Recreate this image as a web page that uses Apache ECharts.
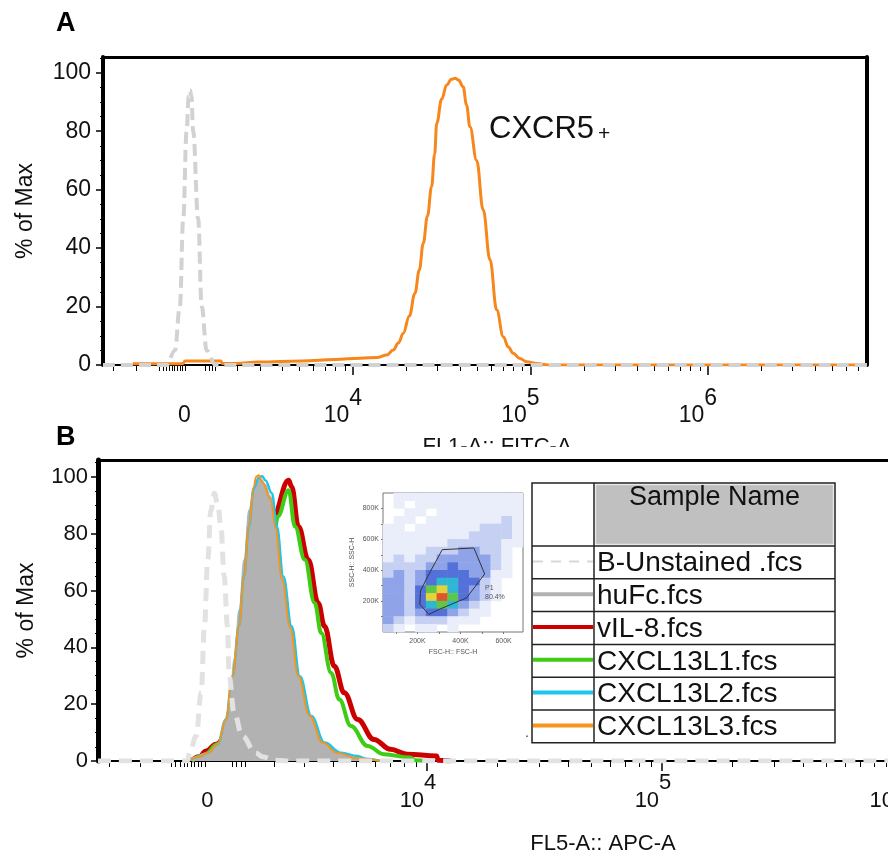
<!DOCTYPE html>
<html>
<head>
<meta charset="utf-8">
<title>CXCR5 flow histograms</title>
<script src="https://cdn.jsdelivr.net/npm/echarts@6.0.0/dist/echarts.min.js"></script>
<style>
  html, body { margin: 0; padding: 0; background: #fff; }
  #main { width: 888px; height: 857px; }
</style>
</head>
<body>
<div id="main"></div>
<script>
// x is in display decades (4 = 10^4, 5 = 10^5 ...), below 10^4 the scale is biexponential
var xTickLabels = ["0", "10^4", "10^5", "10^6"];
var xTickPosA = [3.05, 4, 5, 6];
var xTickPosB = [3.065, 4, 5, 6];
var xMinorLow = [2.65, 2.78, 2.91, 2.93, 2.95, 2.965, 2.98, 2.995, 3.01, 3.025, 3.04, 3.055,
  3.17, 3.19, 3.21, 3.225, 3.35, 3.477, 3.602, 3.699, 3.778, 3.845, 3.903, 3.954];
var yMajor = [0, 20, 40, 60, 80, 100];
var yMinor = [5, 10, 15, 25, 30, 35, 45, 50, 55, 65, 70, 75, 85, 90, 95, 105];

// panel A  (% of Max)
var unstainedA = [[2.592, 0], [2.95, 0], [2.997, 5], [3.025, 20], [3.044, 50], [3.063, 80], [3.075, 92],
  [3.082, 94], [3.09, 92], [3.10, 80], [3.128, 50], [3.148, 20], [3.176, 5], [3.225, 0], [6.896, 0]];
var cxcr5A = [[2.76, 0.4], [3.04, 0.4], [3.055, 1.4], [3.255, 1.4], [3.265, 0.5], [3.345, 0.5], [3.465, 1.0],
  [3.713, 1.4], [3.899, 1.9], [4.04, 2.3], [4.14, 2.6], [4.19, 3.4], [4.227, 5.1], [4.257, 7.6], [4.283, 10.8],
  [4.318, 16.8], [4.349, 24.5], [4.374, 32.5], [4.396, 41.6], [4.42, 51], [4.443, 61], [4.46, 72], [4.472, 82.7],
  [4.5, 91], [4.528, 95.8], [4.555, 97.8], [4.575, 98.1], [4.595, 97.5], [4.621, 95.2], [4.64, 89],
  [4.659, 81.5], [4.697, 70], [4.734, 53], [4.772, 36], [4.81, 18.8], [4.847, 9.7], [4.875, 6.2], [4.903, 4],
  [4.94, 2.2], [4.979, 1.1], [5.035, 0.5], [5.1, 0], [6.896, 0]];

// panel B
var unstainedB = [[2.6, 0], [2.98, 0], [2.99, 2.9], [3.018, 8.8], [3.039, 24], [3.053, 47.4], [3.067, 70.8],
  [3.08, 88], [3.095, 94.2], [3.11, 90], [3.123, 82.5], [3.137, 64.9], [3.151, 47.4], [3.158, 29.8],
  [3.179, 17], [3.214, 8.8], [3.27, 2.9], [3.3, 1.5], [3.35, 0.3], [3.4, 0], [6.898, 0]];
var huFcB = [[2.96, 0], [3.004, 1.2], [3.06, 2.9], [3.116, 6.5], [3.158, 18.1], [3.179, 35.7], [3.2, 53.2],
  [3.221, 70.8], [3.242, 88.3], [3.263, 96], [3.284, 100], [3.298, 99], [3.31, 97.5], [3.336, 93],
  [3.357, 82.5], [3.385, 64.9], [3.42, 47.4], [3.455, 29.8], [3.504, 15.8], [3.56, 6.5], [3.63, 2.9],
  [3.7, 1.2], [3.78, 0.3], [3.85, 0]];
var vil8B = [[2.997, 0], [3.03, 1.5], [3.06, 3.5], [3.102, 5.9], [3.2, 18], [3.24, 40], [3.28, 60],
  [3.31, 72], [3.34, 79], [3.345, 86], [3.411, 98.8], [3.424, 96.5], [3.453, 82.5], [3.495, 70.8],
  [3.537, 55.6], [3.564, 47.4], [3.606, 33.3], [3.648, 24], [3.705, 14.6], [3.774, 7.6], [3.845, 4.1],
  [3.915, 2.4], [4.041, 1.8], [4.047, 0.3], [4.1, 0]];
var l1B = [[3.0, 0], [3.05, 2], [3.11, 6], [3.2, 18], [3.25, 40], [3.29, 60], [3.32, 72], [3.35, 80],
  [3.365, 86], [3.411, 95.3], [3.438, 82.5], [3.48, 70.8], [3.522, 55.6], [3.55, 45], [3.592, 31],
  [3.627, 21.6], [3.676, 12.3], [3.747, 5.3], [3.816, 2.4], [3.929, 1.2], [3.95, 0.3], [4.0, 0]];
var l2B = [[2.98, 0], [3.03, 1.5], [3.07, 3], [3.109, 5.9], [3.144, 14.6], [3.172, 29.8], [3.2, 47.4],
  [3.221, 64.9], [3.242, 82.5], [3.263, 96], [3.284, 99.5], [3.298, 100.3], [3.312, 98.8], [3.34, 94.2],
  [3.361, 82.5], [3.389, 64.9], [3.424, 47.4], [3.459, 29.8], [3.508, 15.8], [3.564, 6.5], [3.634, 2.9],
  [3.705, 1.8], [3.74, 0.8], [3.8, 0]];
var l3B = [[2.98, 0], [3.03, 1.5], [3.07, 3], [3.109, 5.9], [3.144, 14.6], [3.172, 29.8], [3.2, 47.4],
  [3.221, 64.9], [3.242, 82.5], [3.263, 96.5], [3.273, 100], [3.284, 100.5], [3.3, 98], [3.335, 92],
  [3.355, 82], [3.383, 64], [3.418, 47], [3.452, 30], [3.5, 16], [3.555, 6.5], [3.62, 2.8], [3.7, 1], [3.8, 0]];

var sampleNames = ["B-Unstained .fcs", "huFc.fcs", "vIL-8.fcs", "CXCL13L1.fcs", "CXCL13L2.fcs", "CXCL13L3.fcs"];
var sampleColors = ["#d8d8d8", "#b2b2b2", "#cc0000", "#3fcc14", "#1ec6ea", "#f7941d"];

// inset FSC/SSC dot plot, density per 50K bin (rows top -> bottom)
var fscBins = [40, 90, 140, 190, 240, 290, 340, 390, 440, 490, 540, 590, 640];
var sscBins = [0, 50, 100, 150, 200, 250, 300, 350, 400, 450, 500, 550, 600, 650, 700, 750, 800, 850];
var densityRows = [
  [0, 1, 1, 1, 1, 1, 1, 1, 1, 1, 1, 1, 1],
  [0, 1, 0, 1, 1, 1, 1, 1, 1, 1, 1, 1, 1],
  [0, 0, 1, 1, 0, 1, 1, 1, 1, 1, 1, 1, 1],
  [0, 1, 1, 0, 1, 1, 1, 1, 1, 1, 1, 2, 1],
  [1, 1, 0, 1, 1, 1, 1, 1, 1, 2, 2, 2, 1],
  [1, 1, 1, 1, 1, 1, 1, 1, 2, 2, 2, 2, 1],
  [1, 1, 1, 1, 1, 1, 2, 2, 2, 2, 2, 1, 1],
  [1, 1, 1, 1, 2, 2, 2, 3, 3, 2, 2, 1, 0],
  [1, 2, 1, 2, 2, 3, 3, 3, 3, 3, 2, 1, 0],
  [2, 2, 2, 2, 3, 3, 4, 3, 3, 3, 2, 1, 0],
  [2, 3, 2, 3, 4, 4, 4, 4, 3, 3, 1, 1, 0],
  [3, 3, 2, 3, 4, 5, 5, 4, 4, 2, 1, 0, 0],
  [3, 3, 2, 4, 6, 7, 5, 4, 3, 2, 1, 0, 0],
  [3, 3, 2, 4, 7, 8, 6, 4, 3, 2, 1, 0, 0],
  [3, 3, 2, 4, 5, 6, 5, 3, 2, 1, 0, 0, 0],
  [3, 3, 2, 3, 4, 4, 3, 2, 1, 1, 0, 0, 0],
  [3, 2, 1, 2, 2, 2, 1, 1, 1, 0, 0, 0, 0],
  [2, 1, 0, 1, 1, 0, 1, 0, 0, 0, 0, 0, 0]
];
var gateP1 = [[315, 533], [462, 544], [512, 376], [428, 221], [307, 150], [253, 114], [211, 179],
  [214, 265], [248, 361], [315, 533]];

var FONT = "Liberation Sans";

function decadeTicks(base, max) {
  var out = base.slice();
  for (var d = 4; d <= 6; d++) {
    for (var k = 2; k <= 9; k++) {
      var v = d + Math.log10(k);
      if (v <= max) out.push(v);
    }
  }
  return out;
}

function xLabelFmt(positions) {
  return function (v) {
    for (var i = 0; i < positions.length; i++) {
      if (Math.abs(v - positions[i]) < 1e-6) {
        var t = xTickLabels[i];
        if (t.indexOf("^") < 0) return "{b|" + t + "}";
        var p = t.split("^");
        return "{b|" + p[0] + "}{s|" + p[1] + "}";
      }
    }
    return "";
  };
}

var heatData = [];
densityRows.forEach(function (row, r) {
  row.forEach(function (v, c) {
    if (v > 0) heatData.push([c, densityRows.length - 1 - r, v]);
  });
});

function histAxes(grid, min, max, labelPos, fs, margin, lh, supPad) {
  return [
    {
      gridIndex: grid, type: "value", min: min, max: max, position: "bottom",
      axisLine: { show: true, onZero: false, lineStyle: { color: "#000", width: 2 } },
      axisTick: { show: true, length: 10, customValues: [4, 5, 6], lineStyle: { color: "#000", width: 1.5 } },
      axisLabel: {
        customValues: labelPos, margin: margin, color: "#111", formatter: xLabelFmt(labelPos),
        rich: {
          b: { fontSize: fs, fontFamily: FONT, color: "#111", lineHeight: lh, verticalAlign: "bottom" },
          s: { fontSize: fs, fontFamily: FONT, color: "#111", lineHeight: lh, verticalAlign: "top", padding: [0, supPad, 0, 0] }
        }
      },
      splitLine: { show: false }
    },
    {
      gridIndex: grid, type: "value", min: min, max: max, position: "bottom",
      axisLine: { show: false, onZero: false },
      axisTick: { show: true, length: 6, customValues: decadeTicks(xMinorLow, max), lineStyle: { color: "#000", width: 1 } },
      axisLabel: { show: false },
      splitLine: { show: false }
    },
    {
      gridIndex: grid, type: "value", min: min, max: max, position: "top",
      axisLine: { show: true, onZero: false, lineStyle: { color: "#000", width: 3 } },
      axisTick: { show: false }, axisLabel: { show: false }, splitLine: { show: false }
    }
  ];
}

function pctAxes(grid, max, fs, margin, gap, lineW) {
  return [
    {
      gridIndex: grid, type: "value", min: 0, max: max, position: "left",
      axisLine: { show: true, onZero: false, lineStyle: { color: "#000", width: lineW } },
      axisTick: { show: true, length: 7, customValues: yMajor, lineStyle: { color: "#000", width: 1.5 } },
      axisLabel: { customValues: yMajor, margin: margin, fontSize: fs, fontFamily: FONT, color: "#111" },
      splitLine: { show: false },
      name: "% of Max", nameLocation: "middle", nameGap: gap,
      nameTextStyle: { fontSize: 23, fontFamily: FONT, color: "#111" }
    },
    {
      gridIndex: grid, type: "value", min: 0, max: max, position: "left",
      axisLine: { show: false, onZero: false },
      axisTick: { show: true, length: 3, customValues: yMinor, lineStyle: { color: "#000", width: 1 } },
      axisLabel: { show: false }, splitLine: { show: false }
    }
  ];
}

var xAxesA = histAxes(0, 2.592, 6.896, xTickPosA, 23, 22, 40, 20);
var xAxesB = histAxes(1, 2.6, 6.898, xTickPosB, 22, 11, 40, 18);
xAxesB[0].name = "FL5-A:: APC-A";
xAxesB[0].nameLocation = "middle";
xAxesB[0].nameGap = 72;
xAxesB[0].nameTextStyle = { fontSize: 22, fontFamily: FONT, color: "#111" };

var yAxesA = pctAxes(0, 105.4, 23, 12, 66, 4);
yAxesA.push({
  gridIndex: 0, type: "value", min: 0, max: 105.4, position: "right",
  axisLine: { show: true, onZero: false, lineStyle: { color: "#000", width: 4 } },
  axisTick: { show: false }, axisLabel: { show: false }, splitLine: { show: false }
});
var yAxesB = pctAxes(1, 105.9, 22, 10, 60, 5);

var insetLabel = { fontSize: 7, fontFamily: FONT, color: "#555" };

function histLine(name, xi, data, color, width, z, extra) {
  var s = {
    name: name, type: "line", xAxisIndex: xi, yAxisIndex: xi, data: data, z: z,
    showSymbol: false, smooth: 0.4, smoothMonotone: "x",
    lineStyle: { color: color, width: width }
  };
  return Object.assign(s, extra || {});
}

var option = {
  animation: false,
  backgroundColor: "#fff",
  textStyle: { fontFamily: FONT },
  grid: [
    { left: 103, top: 57, width: 764, height: 308, outerBoundsMode: "none" },
    // panel B runs past the right edge of the picture
    { left: 98, top: 460, width: 1010, height: 301, outerBoundsMode: "none" },
    { left: 383, top: 493, width: 140, height: 139, outerBoundsMode: "none", show: true, backgroundColor: "#fff", borderColor: "#777", borderWidth: 1 },
    { left: 383, top: 493, width: 140, height: 139, outerBoundsMode: "none" }
  ],
  visualMap: {
    type: "piecewise", show: false, seriesIndex: 8, dimension: 2,
    pieces: [
      { value: 1, color: "#eaeefb" },
      { value: 2, color: "#c6d0f3" },
      { value: 3, color: "#8fa3e8" },
      { value: 4, color: "#5470d9" },
      { value: 5, color: "#2fb6d3" },
      { value: 6, color: "#5ec64a" },
      { value: 7, color: "#e3d23a" },
      { value: 8, color: "#e0562a" }
    ]
  },
  xAxis: xAxesA.concat(xAxesB).concat([
    { gridIndex: 2, type: "category", data: fscBins, show: false },
    {
      gridIndex: 3, type: "value", min: 40, max: 690,
      axisLine: { show: false, onZero: false },
      axisTick: { show: true, length: 2, customValues: [100, 200, 300, 400, 500, 600], lineStyle: { color: "#777" } },
      axisLabel: Object.assign({ customValues: [200, 400, 600], margin: 6, formatter: "{value}K" }, insetLabel),
      splitLine: { show: false },
      name: "FSC-H:: FSC-H", nameLocation: "middle", nameGap: 17, nameTextStyle: insetLabel
    }
  ]),
  yAxis: yAxesA.concat(yAxesB).concat([
    { gridIndex: 2, type: "category", data: sscBins, show: false },
    {
      gridIndex: 3, type: "value", min: 0, max: 900,
      axisLine: { show: false, onZero: false },
      axisTick: { show: true, length: 2, customValues: [100, 200, 300, 400, 500, 600, 700, 800], lineStyle: { color: "#777" } },
      axisLabel: Object.assign({ customValues: [200, 400, 600, 800], margin: 4, formatter: "{value}K" }, insetLabel),
      splitLine: { show: false },
      name: "SSC-H:: SSC-H", nameLocation: "middle", nameGap: 27, nameTextStyle: insetLabel
    }
  ]),
  series: [
    // A
    histLine("CXCR5+", 0, cxcr5A, "#f7861c", 3, 2),
    histLine("B-Unstained A", 0, unstainedA, "#d2d2d2", 4, 3, {
      lineStyle: { color: "#d2d2d2", width: 4, type: [12, 6] }
    }),
    // B  (vIL-8 and L1 sit under the filled huFc histogram)
    histLine(sampleNames[2], 3, vil8B, sampleColors[2], 5, 1),
    histLine(sampleNames[3], 3, l1B, sampleColors[3], 4, 1),
    histLine(sampleNames[1], 3, huFcB, sampleColors[1], 1, 2, {
      areaStyle: { color: sampleColors[1], opacity: 1 }
    }),
    histLine(sampleNames[4], 3, l2B, sampleColors[4], 2.5, 3),
    histLine(sampleNames[5], 3, l3B, sampleColors[5], 2, 4),
    histLine(sampleNames[0], 3, unstainedB, "#e2e2e2", 5, 5, {
      lineStyle: { color: "#e2e2e2", width: 5, type: [13, 8] }
    }),
    // inset
    {
      type: "heatmap", xAxisIndex: 6, yAxisIndex: 5, data: heatData,
      itemStyle: { borderWidth: 0 }, emphasis: { disabled: true }
    },
    {
      name: "P1", type: "line", xAxisIndex: 7, yAxisIndex: 6, data: gateP1, z: 3,
      showSymbol: false, lineStyle: { color: "#333", width: 1 }
    }
  ],
  graphic: [
    { type: "text", x: 56, y: 10, style: { text: "A", fontSize: 27, fontWeight: "bold", fontFamily: FONT, fill: "#000" } },
    { type: "text", x: 56, y: 424, style: { text: "B", fontSize: 27, fontWeight: "bold", fontFamily: FONT, fill: "#000" } },
    { type: "text", x: 489, y: 114, style: { text: "CXCR5", fontSize: 31, fontFamily: FONT, fill: "#111" } },
    { type: "text", x: 598, y: 124, style: { text: "+", fontSize: 21, fontFamily: FONT, fill: "#111" } },
    { type: "text", x: 497, y: 436, z: 5, style: { text: "FL1-A:: FITC-A", fontSize: 22, fontFamily: FONT, fill: "#111", align: "center" } },
    { type: "rect", z: 10, shape: { x: 410, y: 447, width: 180, height: 12 }, style: { fill: "#fff" } },
    { type: "text", x: 485, y: 585, z: 10, style: { text: "P1", fontSize: 7, fontFamily: FONT, fill: "#555" } },
    { type: "text", x: 485, y: 594, z: 10, style: { text: "80.4%", fontSize: 7, fontFamily: FONT, fill: "#555" } }
  ]
};

// sample table (legend)
var tbl = { x: 532, y: 483, w: 303, col: 594, head: 546, row: 32.8 };
option.graphic.push({ type: "rect", z: 10, shape: { x: tbl.x, y: tbl.y, width: tbl.w, height: tbl.head - tbl.y + tbl.row * 6 },
  style: { fill: "#fff", stroke: "#222", lineWidth: 1.5 } });
option.graphic.push({ type: "rect", z: 10, shape: { x: tbl.col + 2, y: tbl.y + 2, width: tbl.x + tbl.w - tbl.col - 4, height: tbl.head - tbl.y - 4 },
  style: { fill: "#c0c0c0", stroke: "#d0d0d0", lineWidth: 1 } });
option.graphic.push({ type: "line", z: 11, shape: { x1: tbl.col, y1: tbl.y, x2: tbl.col, y2: tbl.head + tbl.row * 6 },
  style: { stroke: "#222", lineWidth: 1.5 } });
option.graphic.push({ type: "text", x: (tbl.col + tbl.x + tbl.w) / 2, y: tbl.y + 1, z: 11,
  style: { text: "Sample Name", fontSize: 27, fontFamily: FONT, fill: "#111", align: "center" } });
sampleNames.forEach(function (name, i) {
  var top = tbl.head + tbl.row * i;
  var mid = top + tbl.row / 2;
  option.graphic.push({ type: "line", z: 11, shape: { x1: tbl.x, y1: top, x2: tbl.x + tbl.w, y2: top },
    style: { stroke: "#222", lineWidth: 1.5 } });
  option.graphic.push({ type: "line", z: 11, shape: { x1: tbl.x + 1, y1: mid - 1, x2: tbl.col - 1, y2: mid - 1 },
    style: i === 0 ? { stroke: sampleColors[i], lineWidth: 2, lineDash: [10, 8] } : { stroke: sampleColors[i], lineWidth: 4 } });
  option.graphic.push({ type: "text", x: tbl.col + 3, y: mid + 1, z: 11,
    style: { text: name, fontSize: 28, fontFamily: FONT, fill: "#111", verticalAlign: "middle" } });
});
option.graphic.push({ type: "text", x: 525, y: 726, z: 11, style: { text: ".", fontSize: 14, fontFamily: FONT, fill: "#333" } });

var myChart = echarts.init(document.getElementById("main"));
myChart.setOption(option);
</script>
</body>
</html>
